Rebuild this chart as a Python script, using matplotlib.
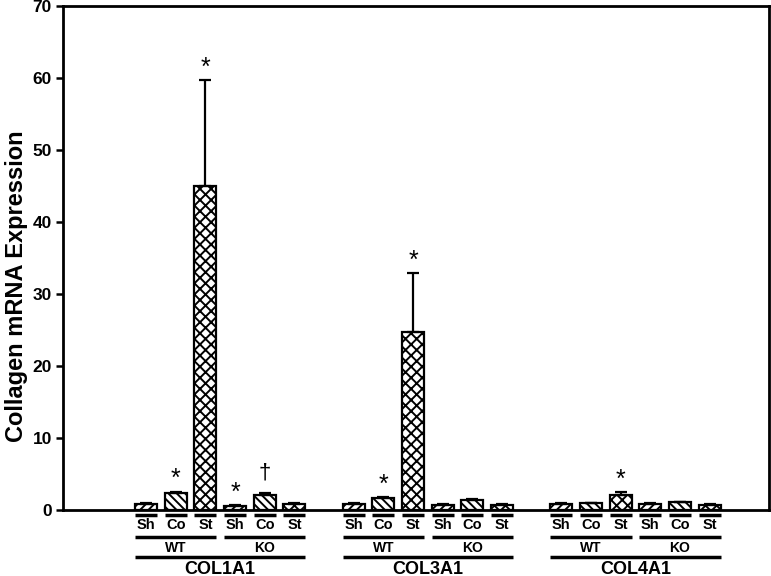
import matplotlib
matplotlib.use("Agg")
import matplotlib.pyplot as plt
import numpy as np
from matplotlib.transforms import blended_transform_factory

plt.rcParams['font.family'] = ['Liberation Sans', 'DejaVu Sans']
plt.rcParams['hatch.linewidth'] = 1.4

genes = ["COL1A1", "COL3A1", "COL4A1"]
genotypes = ["WT", "KO"]
treatments = ["Sh", "Co", "St"]

# means per gene: WT Sh, WT Co, WT St, KO Sh, KO Co, KO St
col1a1_mean = [0.8, 2.4, 45.0, 0.55, 2.1, 0.8]
col1a1_err = [0.15, 0.15, 14.7, 0.12, 0.2, 0.15]
col3a1_mean = [0.9, 1.6, 24.7, 0.7, 1.35, 0.75]
col3a1_err = [0.1, 0.2, 8.2, 0.08, 0.15, 0.12]
col4a1_mean = [0.85, 0.95, 2.1, 0.9, 1.05, 0.75]
col4a1_err = [0.08, 0.08, 0.4, 0.1, 0.1, 0.15]

# significance marks: (gene index, bar index, symbol)
marks = [(0, 1, "*"), (0, 2, "*"), (0, 3, "*"), (0, 4, "\u2020"),
         (1, 1, "*"), (1, 2, "*"),
         (2, 2, "*")]

means = [col1a1_mean, col3a1_mean, col4a1_mean]
errs = [col1a1_err, col3a1_err, col4a1_err]
hatches = ["////", "\\\\\\\\", "xxx"]

fig = plt.figure(figsize=(7.71, 5.76), dpi=100)
ax = fig.add_axes([63/771, 1-510/576, (769-63)/771, (510-6)/576])

width = 0.74
group_step = 7
positions = []
for g in range(3):
    pos = [g*group_step + i for i in range(6)]
    positions.append(pos)
    for i in range(6):
        ax.bar(pos[i], means[g][i], width=width, color="white", edgecolor="black",
               linewidth=1.6, hatch=hatches[i % 3], zorder=2)
    ax.errorbar(pos, means[g], yerr=[np.zeros(6), errs[g]], fmt="none",
                ecolor="black", elinewidth=1.6, capsize=4, capthick=1.6, zorder=3)

for g, i, sym in marks:
    top = means[g][i] + errs[g][i]
    if sym == "*":
        off, fs = 4, 18
    else:
        off, fs = 11, 16
    ax.annotate(sym, xy=(positions[g][i], top), xytext=(0, off),
                textcoords="offset points", ha="center", va="baseline",
                fontsize=fs)

ax.set_xlim(-2.8, 21.0)
ax.set_ylim(0, 70)
ax.set_yticks(np.arange(0, 71, 10))
ax.set_xticks([])
for lab in ax.get_yticklabels():
    lab.set_fontweight("bold")
ax.tick_params(axis="y", direction="out", length=5, width=1.8, labelsize=12.5, pad=3)
for s in ax.spines.values():
    s.set_linewidth(2.0)
ax.set_ylabel("Collagen mRNA Expression", fontsize=17, fontweight="bold")
ax.yaxis.set_label_coords(-0.050, 0.445)

# category annotations below the axis
trans = blended_transform_factory(ax.transData, ax.transAxes)
H = 504.0
def yf(px):
    return -px / H

for g in range(3):
    pos = positions[g]
    for i in range(6):
        ax.plot([pos[i]-width/2, pos[i]+width/2], [yf(5), yf(5)], transform=trans,
                color="black", lw=2.5, clip_on=False, solid_capstyle="butt")
        ax.text(pos[i], yf(15), treatments[i % 3], transform=trans, ha="center",
                va="center", fontsize=10.5, fontweight="bold")
    for k in range(2):
        a, b = pos[3*k], pos[3*k+2]
        ax.plot([a-width/2, b+width/2], [yf(27), yf(27)], transform=trans,
                color="black", lw=2.5, clip_on=False, solid_capstyle="butt")
        ax.text((a+b)/2, yf(38), genotypes[k], transform=trans, ha="center",
                va="center", fontsize=10, fontweight="bold")
    ax.plot([pos[0]-width/2, pos[5]+width/2], [yf(47), yf(47)], transform=trans,
            color="black", lw=2.5, clip_on=False, solid_capstyle="butt")
    ax.text((pos[0]+pos[5])/2, yf(59), genes[g], transform=trans, ha="center",
            va="center", fontsize=13, fontweight="bold")

fig.savefig("out.png", dpi=100)
